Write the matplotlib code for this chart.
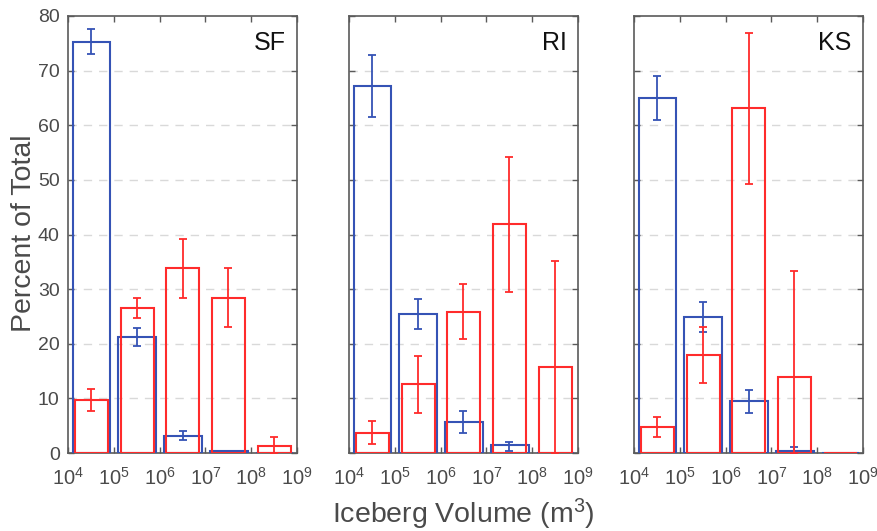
import matplotlib
matplotlib.use("Agg")
import matplotlib.pyplot as plt
import numpy as np

plt.rcParams["font.family"] = ["Liberation Sans", "DejaVu Sans"]
plt.rcParams["mathtext.fontset"] = "custom"
plt.rcParams["mathtext.rm"] = "Liberation Sans"
plt.rcParams["mathtext.it"] = "Liberation Sans:italic"

# decade bins: lower edge exponent of each bin (10^4 .. 10^8)
BIN_EXP = [4, 5, 6, 7, 8]
PANELS = ["SF", "RI", "KS"]

# blue series: value, lower error end, upper error end (percent)
BLUE = {
    "SF": [75.3, 21.2, 3.2, 0.3, 0.0],
    "RI": [67.2, 25.5, 5.7, 1.4, 0.0],
    "KS": [65.0, 24.9, 9.5, 0.4, 0.0],
}
BLUE_LO = {
    "SF": [73.0, 19.6, 2.4, None, None],
    "RI": [61.6, 22.7, 3.7, 0.4, None],
    "KS": [60.9, 22.2, 7.4, 0.0, None],
}
BLUE_HI = {
    "SF": [77.6, 22.8, 4.0, None, None],
    "RI": [72.8, 28.2, 7.7, 2.1, None],
    "KS": [69.1, 27.6, 11.5, 1.1, None],
}

# red series
RED = {
    "SF": [9.7, 26.6, 33.9, 28.4, 1.2],
    "RI": [3.7, 12.6, 25.9, 41.9, 15.8],
    "KS": [4.7, 17.9, 63.1, 14.0, 0.0],
}
RED_LO = {
    "SF": [7.7, 24.8, 28.4, 23.0, 0.0],
    "RI": [1.6, 7.3, 20.8, 29.4, 0.0],
    "KS": [3.0, 12.8, 49.2, 0.0, None],
}
RED_HI = {
    "SF": [11.8, 28.3, 39.2, 33.9, 2.9],
    "RI": [5.8, 17.8, 31.0, 54.2, 35.2],
    "KS": [6.5, 23.0, 76.9, 33.3, None],
}

C_BLUE = "#3553b5"
C_RED = "#ff2b2b"
C_TXT = "#4a4a4a"
C_AX = "#5a5a5a"


def draw_series(ax, vals, lo, hi, color, x0, x1):
    exp = np.array(BIN_EXP, dtype=float)
    left = 10 ** (exp + x0)
    width = 10 ** (exp + x1) - left
    ax.bar(left, vals, width=width, align="edge", fill=False,
           edgecolor=color, linewidth=1.5, zorder=3)
    centers = 10 ** (exp + 0.5)
    for xc, v, l, h in zip(centers, vals, lo, hi):
        if l is None:
            continue
        ax.errorbar([xc], [v], yerr=[[v - l], [h - v]], fmt="none",
                    ecolor=color, elinewidth=1.3, capsize=3.2,
                    capthick=1.3, zorder=4)


fig = plt.figure(figsize=(8.77, 5.31), dpi=100)
lefts = [68, 349, 634]
for i, (p, lx) in enumerate(zip(PANELS, lefts)):
    ax = fig.add_axes([lx / 877, 78 / 531, 229 / 877, 437 / 531])
    ax.set_xscale("log")
    ax.set_xlim(1e4, 1e9)
    ax.set_ylim(0, 80)
    for y in range(10, 80, 10):
        ax.axhline(y, color="#d9d9d9", lw=1.0, ls=(0, (6, 5)), zorder=1)
    draw_series(ax, BLUE[p], BLUE_LO[p], BLUE_HI[p], C_BLUE, 0.10, 0.92)
    draw_series(ax, RED[p], RED_LO[p], RED_HI[p], C_RED, 0.15, 0.87)
    ax.set_xticks([10.0 ** e for e in range(4, 10)])
    ax.minorticks_off()
    ax.set_yticks(range(0, 81, 10))
    ax.tick_params(direction="in", top=True, right=True, length=4,
                   width=1.0, color=C_AX, labelcolor=C_TXT, pad=6)
    ax.tick_params(axis="x", labelsize=14.5, pad=10)
    ax.tick_params(axis="y", labelsize=14)
    if i > 0:
        ax.set_yticklabels([])
    for s in ax.spines.values():
        s.set_color(C_AX)
        s.set_linewidth(1.2)
    ax.text(0.95, 0.965, p, transform=ax.transAxes, ha="right", va="top",
            fontsize=18, color="#111111")

fig.text(24 / 877, 0.56, "Percent of Total", rotation=90, ha="center",
         va="center", fontsize=20.5, color=C_TXT)
fig.text(463 / 877, 17 / 531, "Iceberg Volume (m$^3$)", ha="center",
         va="center", fontsize=20.5, color=C_TXT)

fig.savefig("out.png", dpi=100)
